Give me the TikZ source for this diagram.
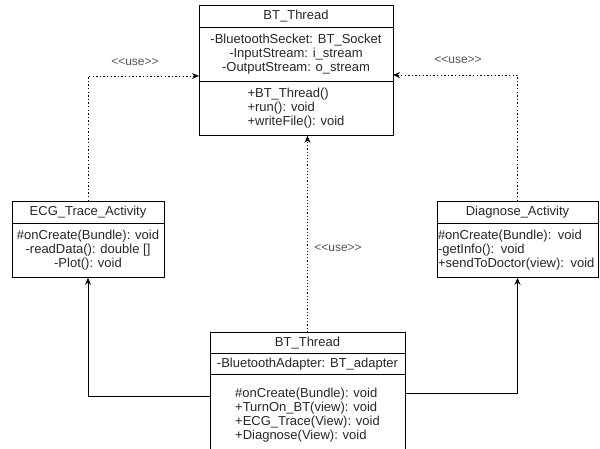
\documentclass[tikz,border=0pt]{standalone}
\usepackage{fontspec}
\setmainfont{Liberation Sans}
\usetikzlibrary{positioning, arrows.meta}
\definecolor{usegray}{RGB}{85,85,85}

\begin{document}
\begin{tikzpicture}[
    x=1pt, y=-1pt,
    every node/.style={font=\fontsize{13}{14}\selectfont, text=black!85},
    cell/.style={draw=black, line width=0.8pt, anchor=north,
        inner xsep=2pt, inner ysep=0pt, align=center},
    celll/.style={draw=black, line width=0.8pt, anchor=north,
        inner xsep=1pt, inner ysep=0pt, align=left},
    lbl/.style={font=\fontsize{12}{14}\selectfont, text=usegray},
    usearrow/.style={-{Stealth[length=7pt,width=6pt]}, line width=0.9pt,
        dash pattern=on 1.4pt off 2.2pt},
    usethin/.style={-{Stealth[length=7pt,width=6pt]}, line width=0.5pt,
        dash pattern=on 1.2pt off 2pt},
    assoc/.style={-{Stealth[length=7pt,width=6pt]}, line width=0.9pt},
]
\useasboundingbox (0,0) rectangle (600,449);
\clip (0,0) rectangle (600,449);

% ====== TOP: BT_Thread ======
\node[cell, minimum width=194pt, minimum height=22pt] (T-name) at (296,5) {BT\_Thread};
\node[cell, minimum width=194pt, minimum height=54pt] (T-attr) at (296,27)
    {-BluetoothSecket: BT\_Socket\\-InputStream: i\_stream\\-OutputStream: o\_stream};
\node[cell, minimum width=194pt, minimum height=54pt] (T-ops) at (296,81)
    {\begin{tabular}{@{}l@{}}+BT\_Thread()\\+run(): void\\+writeFile(): void\end{tabular}};

% ====== LEFT: ECG_Trace_Activity ======
\node[cell, minimum width=152pt, minimum height=22pt] (E-name) at (88,201) {ECG\_Trace\_Activity};
\node[cell, minimum width=152pt, minimum height=54pt] (E-ops) at (88,223)
    {\#onCreate(Bundle): void\\-readData(): double []\\-Plot(): void};

% ====== RIGHT: Diagnose_Activity ======
\node[cell, minimum width=161pt, minimum height=22pt] (D-name) at (517.5,201) {Diagnose\_Activity};
\node[celll, text width=159pt, minimum height=54pt] (D-ops) at (517.5,223)
    {\#onCreate(Bundle): void\\-getInfo(): void\\+sendToDoctor(view): void};

% ====== BOTTOM: BT_Thread ======
\node[cell, minimum width=195pt, minimum height=21pt] (B-name) at (307.5,332) {BT\_Thread};
\node[cell, minimum width=195pt, minimum height=21pt] (B-attr) at (307.5,353) {-BluetoothAdapter: BT\_adapter};
\node[cell, minimum width=195pt, inner ysep=13pt] (B-ops) at (307.5,374)
    {\begin{tabular}{@{}l@{}}\#onCreate(Bundle): void\\+TurnOn\_BT(view): void\\+ECG\_Trace(View): void\\+Diagnose(View): void\end{tabular}};

% ====== CONNECTORS ======
\coordinate (T-inl) at (199,76);
\coordinate (T-inr) at (393,75);
\coordinate (B-outl) at (210,396);
\coordinate (B-outr) at (405,393);

\draw[usearrow] (E-name.north) |- (T-inl);
\draw[usearrow] (D-name.north) |- (T-inr);
\draw[usethin] (B-name.north) -- (B-name.north |- T-ops.south);
\draw[assoc] (B-outl) -| (E-ops.south);
\draw[assoc] (B-outr) -| (D-ops.south);

\node[lbl] (L-use) at (135,62) {<{}<use>{}>};
\node[lbl] (R-use) at (458,60) {<{}<use>{}>};
\node[lbl] (C-use) at (338,248) {<{}<use>{}>};

\end{tikzpicture}
\end{document}
